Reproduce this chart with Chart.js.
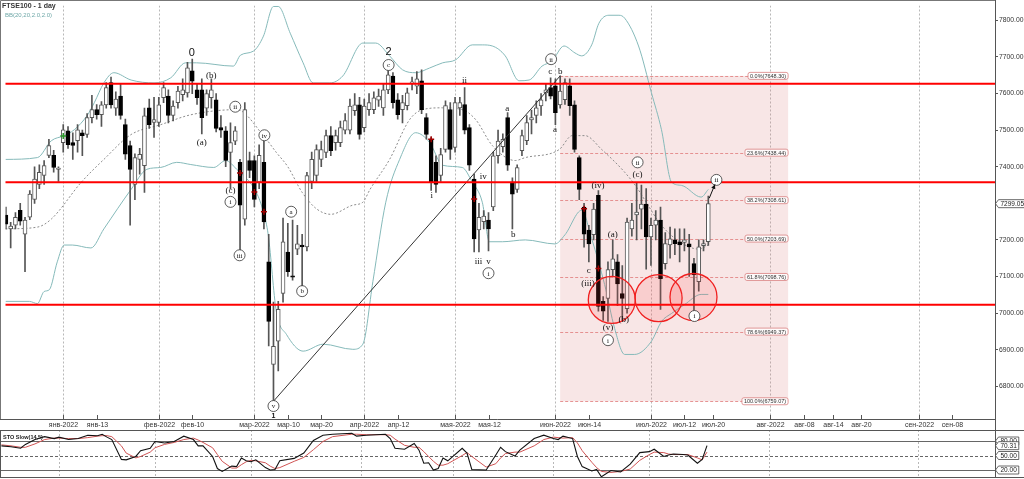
<!DOCTYPE html>
<html>
<head>
<meta charset="utf-8">
<script src="https://cdn.jsdelivr.net/npm/chart.js@4.4.1/dist/chart.umd.min.js"></script>
<style>
html, body { margin: 0; padding: 0; background: #fff; }
#wrap { position: relative; width: 1024px; height: 479px; overflow: hidden; }
#main { position: absolute; left: 0; top: 0; }
#sto { position: absolute; left: 0; top: 430px; }
</style>
</head>
<body>
<div id="wrap">
  <canvas id="main" width="1024" height="430"></canvas>
  <canvas id="sto" width="1024" height="49"></canvas>
</div>
<script>
// FTSE100 daily candles, first bar sits 12 sessions before 4 Jan 2022
const firstBar = -12;
const opens = [
  7268, 7230, 7240, 7281, 7216, 7262, 7311, 7352, 7376, 7431,
  7431, 7393, 7466, 7498, 7466, 7471, 7493, 7488, 7534, 7556,
  7542, 7569, 7630, 7560, 7593, 7515, 7458, 7352, 7420, 7403,
  7561, 7521, 7521, 7589, 7593, 7540, 7575, 7597, 7602, 7662,
  7610, 7610, 7560, 7589, 7583, 7507, 7498, 7439, 7470, 7412,
  7257, 7417, 7417, 7358, 7412, 7140, 6860, 6923, 7054, 7167,
  7102, 7175, 7186, 7181, 7360, 7376, 7420, 7439, 7485, 7466,
  7466, 7500, 7500, 7553, 7569, 7507, 7556, 7556, 7582, 7561,
  7610, 7648, 7583, 7556, 7567, 7628, 7620, 7635, 7534, 7474,
  7412, 7376, 7447, 7556, 7453, 7561, 7570, 7507, 7366, 7227,
  7250, 7254, 7290, 7430, 7455, 7534, 7358, 7338, 7444, 7471,
  7528, 7540, 7566, 7602, 7616, 7621, 7569, 7583, 7621, 7569,
  7425, 7290, 7227, 7214, 7322, 7032, 7040, 7119, 7140, 7053,
  7012, 7230, 7268, 7284, 7298, 7208, 7240, 7254, 7135, 7186,
  7200, 7195, 7193, 7189, 7135, 7086, 7184, 7195
];
const highs = [
  7290, 7248, 7275, 7300, 7262, 7335, 7400, 7405, 7417, 7475,
  7445, 7400, 7515, 7510, 7493, 7515, 7500, 7545, 7595, 7570,
  7578, 7630, 7645, 7605, 7625, 7530, 7470, 7435, 7450, 7560,
  7585, 7590, 7590, 7630, 7610, 7580, 7620, 7640, 7685, 7694,
  7625, 7640, 7610, 7640, 7600, 7540, 7510, 7520, 7510, 7420,
  7575, 7440, 7430, 7460, 7470, 7215, 7030, 7032, 7260, 7245,
  7254, 7240, 7215, 7385, 7440, 7460, 7470, 7500, 7510, 7500,
  7525, 7545, 7585, 7600, 7590, 7585, 7600, 7605, 7612, 7625,
  7670, 7657, 7600, 7595, 7615, 7645, 7660, 7665, 7545, 7480,
  7430, 7450, 7580, 7575, 7590, 7590, 7616, 7515, 7380, 7300,
  7280, 7275, 7440, 7500, 7490, 7548, 7370, 7405, 7500, 7540,
  7555, 7580, 7600, 7625, 7643, 7640, 7648.3, 7640, 7640, 7580,
  7430, 7300, 7240, 7300, 7335, 7045, 7140, 7200, 7160, 7130,
  7260, 7300, 7357, 7350, 7340, 7260, 7280, 7290, 7220, 7235,
  7230, 7230, 7230, 7215, 7150, 7200, 7200, 7320
];
const lows = [
  7230, 7178, 7230, 7240, 7113, 7255, 7300, 7340, 7352, 7425,
  7385, 7360, 7440, 7450, 7420, 7440, 7430, 7480, 7520, 7530,
  7510, 7560, 7560, 7540, 7530, 7420, 7240, 7310, 7380, 7330,
  7505, 7480, 7510, 7575, 7520, 7525, 7560, 7580, 7590, 7600,
  7570, 7490, 7540, 7560, 7495, 7480, 7400, 7340, 7460, 7170,
  7240, 7370, 7290, 7340, 7230, 6910, 6760, 6842, 7030, 7100,
  7090, 7160, 7068, 7170, 7340, 7360, 7400, 7425, 7430, 7445,
  7455, 7490, 7490, 7540, 7475, 7495, 7540, 7545, 7565, 7540,
  7600, 7560, 7530, 7520, 7555, 7610, 7600, 7545, 7475, 7335,
  7330, 7360, 7440, 7420, 7440, 7540, 7490, 7390, 7167, 7167,
  7230, 7170, 7280, 7410, 7440, 7390, 7230, 7330, 7430, 7460,
  7490, 7520, 7540, 7580, 7585, 7515, 7560, 7570, 7540, 7440,
  7310, 7180, 7140, 7200, 7005, 6980, 6977, 7100, 7020, 6980,
  7000, 7210, 7200, 7230, 7120, 7130, 7200, 7010, 7120, 7150,
  7160, 7140, 7170, 7100, 7004, 7060, 7170, 7185
];
const closes = [
  7243, 7238, 7262, 7251, 7254, 7325, 7366, 7385, 7403, 7458,
  7398, 7396, 7501, 7460, 7458, 7501, 7485, 7534, 7556, 7542,
  7569, 7616, 7569, 7585, 7540, 7434, 7393, 7425, 7434, 7539,
  7515, 7529, 7569, 7616, 7540, 7566, 7607, 7610, 7670, 7634,
  7589, 7534, 7600, 7610, 7505, 7500, 7417, 7466, 7498, 7295,
  7556, 7390, 7311, 7431, 7249, 6977, 6909, 7010, 7195, 7113,
  7098, 7189, 7181, 7376, 7420, 7447, 7447, 7485, 7444, 7485,
  7507, 7526, 7566, 7569, 7488, 7566, 7575, 7588, 7593, 7610,
  7651, 7575, 7542, 7575, 7602, 7632, 7640, 7556, 7488, 7358,
  7352, 7433, 7567, 7447, 7575, 7575, 7500, 7404, 7203, 7262,
  7265, 7230, 7430, 7470, 7475, 7404, 7325, 7398, 7485, 7521,
  7534, 7561, 7583, 7610, 7593, 7548, 7607, 7630, 7567, 7447,
  7338, 7216, 7189, 7284, 7018, 7005, 7119, 7148, 7080, 7040,
  7249, 7254, 7276, 7298, 7208, 7240, 7254, 7094, 7190, 7203,
  7190, 7186, 7200, 7181, 7105, 7181, 7190, 7299.05
];

// Bollinger bands BB(20,20,2.0,2.0)
const upIdx = [-12.1,-5.4,-2.5,0.2,2.3,5,6.5,8.5,10.6,14.2,19,22.5,25.6,27.9,35.6,37.1,39.8,41.9,44,45,
  47.5,50.2,52.3,55.8,58.5,62.7,65.4,68.3,71,73.8,76.7,79.4,82.1,85.6,87.7,89.8,92.5,95.4,97.5,100.2,
  102.3,104.8,107.1,108.5,110.6,112.1,114.2,116.3,117.5,120.4,123.1,125.2,127.3,129.4,133.5,135];
const upVal = [7420,7425,7471,7485,7501,7540,7575,7629,7657,7637,7629,7643,7684,7684,7675,7705,7716,7757,7838,7838,
  7765,7684,7629,7629,7648,7738,7738,7703,7665,7657,7670,7684,7692,7733,7733,7730,7703,7635,7637,7675,
  7689,7730,7711,7703,7733,7792,7814,7814,7806,7730,7602,7501,7358,7349,7317,7338];
const midIdx = [-12.1,-5.4,-2.5,3.8,8.5,14.2,20.4,26.7,36.3,41.9,44.6,47,50,53,56,60.6,62.7,64.2,68.3,72.5,
  75.2,79.4,83.5,86.3,89.8,94.6,96.7,103.8,106.5,109.2,112.7,117.5,120,122,125,129,133,135];
const midVal = [7230,7235,7257,7358,7420,7488,7515,7542,7556,7485,7439,7400,7330,7285,7270,7295,7303,7338,7420,7529,
  7556,7561,7556,7529,7458,7417,7425,7447,7485,7485,7447,7385,7344,7303,7243,7195,7175,7186];
const lowIdx = [-12.1,-7.1,-5.4,-4,-2.9,-1.25,0.2,1.9,5.8,8.5,14.2,17.5,20.4,23.75,26.7,31.5,34,36.3,40.4,41.9,
  42.9,44.6,46.7,50.2,54.4,60.6,62.7,64.8,67.5,70.4,73.75,76.7,79.4,83.5,85.6,87.7,89.2,91.9,96.7,102.9,
  105,108.5,110.6,113.3,115.4,117.5,119.6,123.1,125.2,127.3,130,133.5,135];
const lowVal = [7032,7032,7026,7059,7064,7140,7186,7186,7178,7230,7338,7393,7398,7412,7406,7398,7417,7393,7330,7276,
  7214,7004,6942,6896,6915,6901,6915,7086,7303,7420,7493,7466,7404,7398,7358,7303,7195,7195,7200,7189,
  7214,7281,7203,7078,6958,6887,6887,6923,6977,6999,7023,7051,7051];

// STO Slow(14,5)
const stoIdx = [-12,-10,-8,-7,-5,-3,-1,0,2,4,6,8,9,10,11,13,14,16,17,19,20,22,24,26,28,29,30,32,33,34,36,37,38,39,40,41,
  43,44,45,46,49,51,53,55,57,61,62,64,68,69,70,72,74,75,76,77,78,79,80,81,84,85,86,89,91,92,93,95,96,99,101,103,104,105,
  107,108,109,111,112,113,115,117,119,121,123,124,126,127,128,130,131,133,134,135];
const stoK = [70,68,65,73,83,89,85,88,83,85,92,91,94,88,83,42,41,48,60,65,79,76,79,90,83,70,70,48,23,17,28,27,45,39,37,41,
  25,20,21,39,44,55,81,92,94,96,90,92,94,85,65,63,75,61,34,35,20,23,45,39,65,55,21,20,51,67,58,49,61,85,92,85,83,90,
  85,48,27,18,21,6,19,16,32,56,58,63,48,51,53,52,51,34,42,70.31];
const stoD = [72,70,67,67,74,83,86,86,85,85,87,90,91,91,89,70,55,45,48,57,66,73,77,83,86,82,77,66,52,38,24,24,31,37,40,39,
  35,28,23,25,38,46,62,79,89,94,94,93,93,92,84,71,67,67,58,48,38,30,30,33,50,56,48,26,33,45,54,57,57,70,83,88,87,86,
  87,76,60,36,25,17,15,17,22,40,52,57,56,53,52,52,52,45,41,57];
const stoLevels = [80, 50, 20];

// axes
const xTickIdx = [0, 7, 20, 27, 40, 47, 54, 63, 70, 82, 89, 103, 110, 123, 130, 136, 148, 155, 161, 167, 179, 186];
const xTickLbl = ['янв-2022','янв-13','фев-2022','фев-10','мар-2022','мар-10','мар-20','апр-2022','апр-12',
  'мая-2022','мая-12','июн-2022','июн-14','июл-2022','июл-12','июл-20','авг-2022','авг-08','авг-14','авг-20',
  'сен-2022','сен-08'];
const monthIdx = [0, 20, 40, 63, 82, 103, 123, 148, 179];
const yTicks = [6800, 6900, 7000, 7100, 7200, 7300, 7400, 7500, 7600, 7700, 7800];
const lastPrice = 7299.05;

// drawing tools
const redLevels = [7627, 7357.5, 7022.5];
const fibPct = ['0.0%', '23.6%', '38.2%', '50.0%', '61.8%', '78.6%', '100.0%'];
const fibVal = [7648.30, 7438.44, 7308.61, 7203.69, 7098.76, 6949.37, 6759.07];
const fibFrom = 104, fibTo = 151.7;
const trendIdx = [44, 104], trendVal = [6759.07, 7648.30];
const ringIdx = [114.8, 124.6, 131.9], ringVal = [7036, 7041, 7044];
const markIdx = [0, 37, 40, 42, 77, 86, 109, 112];
const markVal = [7484, 7383, 7331, 7277, 7475, 7312, 7285, 7122];
const markCol = ['#2a9a2a', '#a00000', '#a00000', '#a00000', '#a00000', '#a00000', '#a00000', '#a00000'];

// wave count labels: k = c circled, s serif, n big digit
const waves = [
  {t:'0', i:26.9, p:7711, k:'n'}, {t:'(b)', i:31.0, p:7651, k:'s'}, {t:'(a)', i:29.0, p:7467, k:'s'},
  {t:'ii', i:36.0, p:7564, k:'c'}, {t:'iv', i:42.1, p:7486, k:'c'}, {t:'(c)', i:35.0, p:7337, k:'s'},
  {t:'i', i:35.0, p:7304, k:'c'}, {t:'iii', i:36.9, p:7158, k:'c'}, {t:'a', i:47.7, p:7277, k:'c'},
  {t:'b', i:50.0, p:7060, k:'c'}, {t:'v', i:44.0, p:6746, k:'c'}, {t:'1', i:44.0, p:6719, k:'n1'},
  {t:'2', i:68.1, p:7716, k:'n'}, {t:'c', i:68.1, p:7678, k:'c'}, {t:'ii', i:84.0, p:7637, k:'s'},
  {t:'i', i:77.1, p:7323, k:'s'}, {t:'iv', i:87.9, p:7375, k:'s'}, {t:'iii', i:86.9, p:7142, k:'s'},
  {t:'v', i:89.0, p:7142, k:'s'}, {t:'i', i:89.0, p:7109, k:'c'}, {t:'b', i:94.2, p:7215, k:'s'},
  {t:'a', i:92.9, p:7559, k:'s'}, {t:'ii', i:102.1, p:7694, k:'c'}, {t:'c', i:101.9, p:7662, k:'s'},
  {t:'b', i:104.0, p:7662, k:'s'}, {t:'a', i:102.9, p:7502, k:'s'}, {t:'(iv)', i:111.9, p:7350, k:'s'},
  {t:'c', i:110.0, p:7117, k:'s'}, {t:'(iii)', i:109.8, p:7082, k:'s'}, {t:'(v)', i:114.0, p:6961, k:'s'},
  {t:'i', i:114.0, p:6926, k:'c'}, {t:'(b)', i:117.3, p:6983, k:'s'}, {t:'(a)', i:115.0, p:7217, k:'s'},
  {t:'ii', i:120.2, p:7412, k:'c'}, {t:'(c)', i:120.2, p:7380, k:'s'}, {t:'i', i:132.1, p:6992, k:'c'},
  {t:'ii', i:136.7, p:7364, k:'c'}
];
const arrowIdx = [135.2, 136.4], arrowVal = [7314, 7352];

const xMin = -12.083, xMax = 195;
const SANS = '"Liberation Sans", Arial, sans-serif';
const SERIF = '"Liberation Serif", "Times New Roman", serif';
Chart.defaults.font.family = SANS;

const bars = opens.map((o, k) => firstBar + k);
const rising = closes.map((c, k) => c >= opens[k]);
const pts = (xa, ya) => xa.map((x, k) => ({ x: x, y: ya[k] }));

function tag(ctx, x, y, text, font) {
  ctx.font = font;
  const w = ctx.measureText(text).width + 4;
  ctx.beginPath();
  ctx.moveTo(x, y);
  ctx.lineTo(x + 3, y - 4);
  ctx.lineTo(x + 3 + w, y - 4);
  ctx.lineTo(x + 3 + w, y + 4);
  ctx.lineTo(x + 3, y + 4);
  ctx.closePath();
  ctx.fillStyle = '#fff';
  ctx.fill();
  ctx.strokeStyle = '#444';
  ctx.lineWidth = 0.8;
  ctx.stroke();
  ctx.fillStyle = '#222';
  ctx.textAlign = 'left';
  ctx.textBaseline = 'middle';
  ctx.fillText(text, x + 5, y + 0.5);
}

const mainDeco = {
  id: 'mainDeco',
  beforeDatasetsDraw(chart) {
    const { ctx, chartArea: a, scales: { x, y } } = chart;
    ctx.save();
    ctx.beginPath();
    ctx.rect(a.left, a.top, a.right - a.left, a.bottom - a.top);
    ctx.clip();
    // month separators
    ctx.strokeStyle = '#b8b8b8';
    ctx.lineWidth = 1;
    ctx.setLineDash([2, 2]);
    monthIdx.forEach(m => {
      const px = Math.round(x.getPixelForValue(m)) + 0.5;
      ctx.beginPath(); ctx.moveTo(px, a.top); ctx.lineTo(px, a.bottom); ctx.stroke();
    });
    // fibonacci zone
    const fx1 = x.getPixelForValue(fibFrom), fx2 = x.getPixelForValue(fibTo);
    const fy1 = y.getPixelForValue(fibVal[0]), fy2 = y.getPixelForValue(fibVal[fibVal.length - 1]);
    ctx.setLineDash([]);
    ctx.fillStyle = 'rgba(222,130,130,0.2)';
    ctx.fillRect(fx1, fy1, fx2 - fx1, fy2 - fy1);
    ctx.strokeStyle = '#e07a7a';
    ctx.lineWidth = 0.8;
    ctx.setLineDash([3, 2]);
    fibVal.forEach(v => {
      const py = Math.round(y.getPixelForValue(v)) + 0.5;
      ctx.beginPath(); ctx.moveTo(fx1, py); ctx.lineTo(fx2 - 40, py); ctx.stroke();
    });
    ctx.restore();
  },
  afterDatasetsDraw(chart) {
    const { ctx, chartArea: a, scales: { x, y } } = chart;
    ctx.save();
    ctx.beginPath();
    ctx.rect(a.left, a.top, a.right - a.left, a.bottom - a.top);
    ctx.clip();
    // fib labels
    const fx2 = x.getPixelForValue(fibTo);
    ctx.font = '5.5px ' + SANS;
    fibVal.forEach((v, k) => {
      const txt = fibPct[k] + '(' + v.toFixed(2) + ')';
      const w = ctx.measureText(txt).width + 4;
      const py = y.getPixelForValue(v);
      ctx.beginPath();
      ctx.roundRect(fx2 - w, py - 3.5, w, 7, 2);
      ctx.fillStyle = 'rgba(255,255,255,0.85)';
      ctx.fill();
      ctx.strokeStyle = '#d98080';
      ctx.lineWidth = 0.8;
      ctx.stroke();
      ctx.fillStyle = '#333';
      ctx.textAlign = 'left';
      ctx.textBaseline = 'middle';
      ctx.fillText(txt, fx2 - w + 2, py + 0.5);
    });
    // horizontal levels
    ctx.strokeStyle = '#ff0000';
    ctx.lineWidth = 2;
    redLevels.forEach(v => {
      const py = y.getPixelForValue(v);
      ctx.beginPath(); ctx.moveTo(a.left - 1, py); ctx.lineTo(a.right, py); ctx.stroke();
    });
    // rings
    ringIdx.forEach((i, k) => {
      ctx.beginPath();
      ctx.arc(x.getPixelForValue(i), y.getPixelForValue(ringVal[k]), 23.5, 0, Math.PI * 2);
      ctx.fillStyle = 'rgba(255,60,60,0.14)';
      ctx.fill();
      ctx.strokeStyle = '#f02020';
      ctx.lineWidth = 1.3;
      ctx.stroke();
    });
    // wave labels
    waves.forEach(w => {
      const px = x.getPixelForValue(w.i), py = y.getPixelForValue(w.p);
      if (w.k === 'c') {
        ctx.beginPath();
        ctx.arc(px, py, 5.5, 0, Math.PI * 2);
        ctx.fillStyle = '#fff';
        ctx.fill();
        ctx.strokeStyle = '#333';
        ctx.lineWidth = 0.8;
        ctx.stroke();
        ctx.font = '7px ' + SERIF;
      } else if (w.k === 'n') {
        ctx.font = '11px ' + SANS;
      } else if (w.k === 'n1') {
        ctx.font = 'bold 7px ' + SANS;
      } else {
        ctx.font = '9px ' + SERIF;
      }
      ctx.fillStyle = '#111';
      ctx.textAlign = 'center';
      ctx.textBaseline = 'middle';
      ctx.fillText(w.t, px, py + 0.5);
    });
    // arrow
    const ax1 = x.getPixelForValue(arrowIdx[0]), ay1 = y.getPixelForValue(arrowVal[0]);
    const ax2 = x.getPixelForValue(arrowIdx[1]), ay2 = y.getPixelForValue(arrowVal[1]);
    const ang = Math.atan2(ay2 - ay1, ax2 - ax1);
    ctx.strokeStyle = '#111';
    ctx.fillStyle = '#111';
    ctx.lineWidth = 1;
    ctx.beginPath(); ctx.moveTo(ax1, ay1); ctx.lineTo(ax2, ay2); ctx.stroke();
    ctx.beginPath();
    ctx.moveTo(ax2, ay2);
    ctx.lineTo(ax2 - 5 * Math.cos(ang - 0.45), ay2 - 5 * Math.sin(ang - 0.45));
    ctx.lineTo(ax2 - 5 * Math.cos(ang + 0.45), ay2 - 5 * Math.sin(ang + 0.45));
    ctx.closePath();
    ctx.fill();
    ctx.restore();
  },
  afterDraw(chart) {
    const { ctx, chartArea: a, scales: { x, y } } = chart;
    ctx.save();
    ctx.strokeStyle = '#777';
    ctx.lineWidth = 1;
    ctx.beginPath();
    ctx.moveTo(0.5, a.bottom); ctx.lineTo(0.5, 0.5); ctx.lineTo(a.right + 0.5, 0.5);
    ctx.stroke();
    ctx.strokeStyle = '#555';
    ctx.beginPath();
    ctx.moveTo(0, a.bottom + 0.5); ctx.lineTo(a.right + 0.5, a.bottom + 0.5);
    ctx.moveTo(a.right + 0.5, 0); ctx.lineTo(a.right + 0.5, chart.height);
    ctx.stroke();
    // x ticks pointing into the plot, labels underneath
    ctx.fillStyle = '#333';
    ctx.font = '7px ' + SANS;
    ctx.textAlign = 'center';
    ctx.textBaseline = 'middle';
    xTickIdx.forEach((v, k) => {
      const px = Math.round(x.getPixelForValue(v)) + 0.5;
      ctx.beginPath(); ctx.moveTo(px, a.bottom); ctx.lineTo(px, a.bottom - 4); ctx.stroke();
      ctx.fillText(xTickLbl[k], px, a.bottom + 6);
    });
    // titles
    ctx.textAlign = 'left';
    ctx.textBaseline = 'middle';
    ctx.fillStyle = '#333';
    ctx.font = 'bold 7px ' + SANS;
    ctx.fillText('FTSE100 - 1 day', 2, 6);
    ctx.fillStyle = '#6fa8a8';
    ctx.font = '6px ' + SANS;
    ctx.fillText('BB(20,20,2.0,2.0)', 5, 15.5);
    // last price tag
    tag(ctx, a.right + 0.5, y.getPixelForValue(lastPrice), lastPrice.toFixed(2), '6.5px ' + SANS);
    ctx.restore();
  }
};

new Chart(document.getElementById('main'), {
  type: 'bar',
  data: {
    datasets: [
      { type: 'line', data: pts(upIdx, upVal), borderColor: '#86baba', borderWidth: 1, pointRadius: 0,
        cubicInterpolationMode: 'monotone', order: 9 },
      { type: 'line', data: pts(midIdx, midVal), borderColor: '#8c8c8c', borderWidth: 1, borderDash: [2, 2],
        pointRadius: 0, cubicInterpolationMode: 'monotone', order: 9 },
      { type: 'line', data: pts(lowIdx, lowVal), borderColor: '#86baba', borderWidth: 1, pointRadius: 0,
        cubicInterpolationMode: 'monotone', order: 9 },
      { data: bars.map((x, k) => ({ x: x, y: [lows[k], highs[k]] })), backgroundColor: '#555',
        barThickness: 1, grouped: false, order: 6 },
      { data: bars.map((x, k) => ({ x: x, y: [opens[k], closes[k]] })),
        backgroundColor: rising.map(r => r ? '#ffffff' : '#000000'),
        borderColor: rising.map(r => r ? '#555555' : '#000000'),
        borderWidth: 1, borderSkipped: false, barThickness: 4, grouped: false, order: 5 },
      { type: 'line', data: pts(trendIdx, trendVal), borderColor: '#333', borderWidth: 1, pointRadius: 0, order: 4 },
      { type: 'line', data: pts(markIdx, markVal), showLine: false, pointStyle: 'cross', pointRadius: 3,
        pointBorderColor: markCol, pointBorderWidth: 1.5, order: 3 }
    ]
  },
  options: {
    responsive: false,
    animation: false,
    devicePixelRatio: 1,
    events: [],
    layout: { padding: { left: 1, top: 2, right: 0, bottom: 0 } },
    plugins: { legend: { display: false }, tooltip: { enabled: false } },
    scales: {
      x: {
        type: 'linear', min: xMin, max: xMax, offset: false,
        grid: { display: false, offset: false },
        border: { display: false },
        afterBuildTicks: s => { s.ticks = xTickIdx.map(v => ({ value: v })); },
        afterFit: s => { s.height = 11; },
        ticks: { display: false }
      },
      y: {
        position: 'right', min: 6710.57, max: 7840.65, beginAtZero: false,
        afterBuildTicks: s => { s.ticks = yTicks.map(v => ({ value: v })); },
        afterFit: s => { s.width = 29; },
        grid: { drawOnChartArea: false, tickLength: 3, color: '#555' },
        border: { display: false },
        ticks: { padding: 1, font: { size: 6.8 }, color: '#333', callback: v => v.toFixed(2) }
      }
    }
  },
  plugins: [mainDeco]
});

const stoDeco = {
  id: 'stoDeco',
  beforeDatasetsDraw(chart) {
    const { ctx, chartArea: a, scales: { x, y } } = chart;
    ctx.save();
    ctx.strokeStyle = '#b8b8b8';
    ctx.lineWidth = 1;
    ctx.setLineDash([2, 2]);
    monthIdx.forEach(m => {
      const px = Math.round(x.getPixelForValue(m)) + 0.5;
      ctx.beginPath(); ctx.moveTo(px, a.top); ctx.lineTo(px, a.bottom); ctx.stroke();
    });
    ctx.strokeStyle = '#666';
    stoLevels.forEach(v => {
      ctx.setLineDash(v === 50 ? [3, 2] : []);
      const py = Math.round(y.getPixelForValue(v)) + 0.5;
      ctx.beginPath(); ctx.moveTo(0, py); ctx.lineTo(a.right, py); ctx.stroke();
    });
    ctx.restore();
  },
  afterDraw(chart) {
    const { ctx, chartArea: a, scales: { y } } = chart;
    ctx.save();
    ctx.strokeStyle = '#555';
    ctx.lineWidth = 1;
    ctx.beginPath();
    ctx.moveTo(0, 0.5); ctx.lineTo(chart.width, 0.5);
    ctx.moveTo(0, a.bottom - 0.5); ctx.lineTo(chart.width, a.bottom - 0.5);
    ctx.moveTo(0.5, 0); ctx.lineTo(0.5, a.bottom);
    ctx.moveTo(a.right + 0.5, 0); ctx.lineTo(a.right + 0.5, a.bottom);
    ctx.stroke();
    ctx.fillStyle = '#222';
    ctx.font = 'bold 5.5px ' + SANS;
    ctx.textAlign = 'left';
    ctx.textBaseline = 'middle';
    ctx.fillText('STO Slow(14,5)', 3, 7.5);
    stoLevels.forEach(v => tag(ctx, a.right + 0.5, y.getPixelForValue(v), v.toFixed(2), '6.5px ' + SANS));
    const last = stoK[stoK.length - 1];
    tag(ctx, a.right + 0.5, y.getPixelForValue(last), last.toFixed(2), '6.5px ' + SANS);
    ctx.restore();
  }
};

new Chart(document.getElementById('sto'), {
  type: 'line',
  data: {
    datasets: [
      { data: pts(stoIdx, stoK), borderColor: '#111', borderWidth: 1.1, pointRadius: 0 },
      { data: pts(stoIdx, stoD), borderColor: '#d05454', borderWidth: 1, pointRadius: 0 }
    ]
  },
  options: {
    responsive: false,
    animation: false,
    devicePixelRatio: 1,
    events: [],
    layout: { padding: { left: 1, right: 29, top: 0, bottom: 1 } },
    plugins: { legend: { display: false }, tooltip: { enabled: false } },
    scales: {
      x: { type: 'linear', display: false, min: xMin, max: xMax },
      y: { display: false, min: 3.45, max: 102.76 }
    }
  },
  plugins: [stoDeco]
});
</script>
</body>
</html>
